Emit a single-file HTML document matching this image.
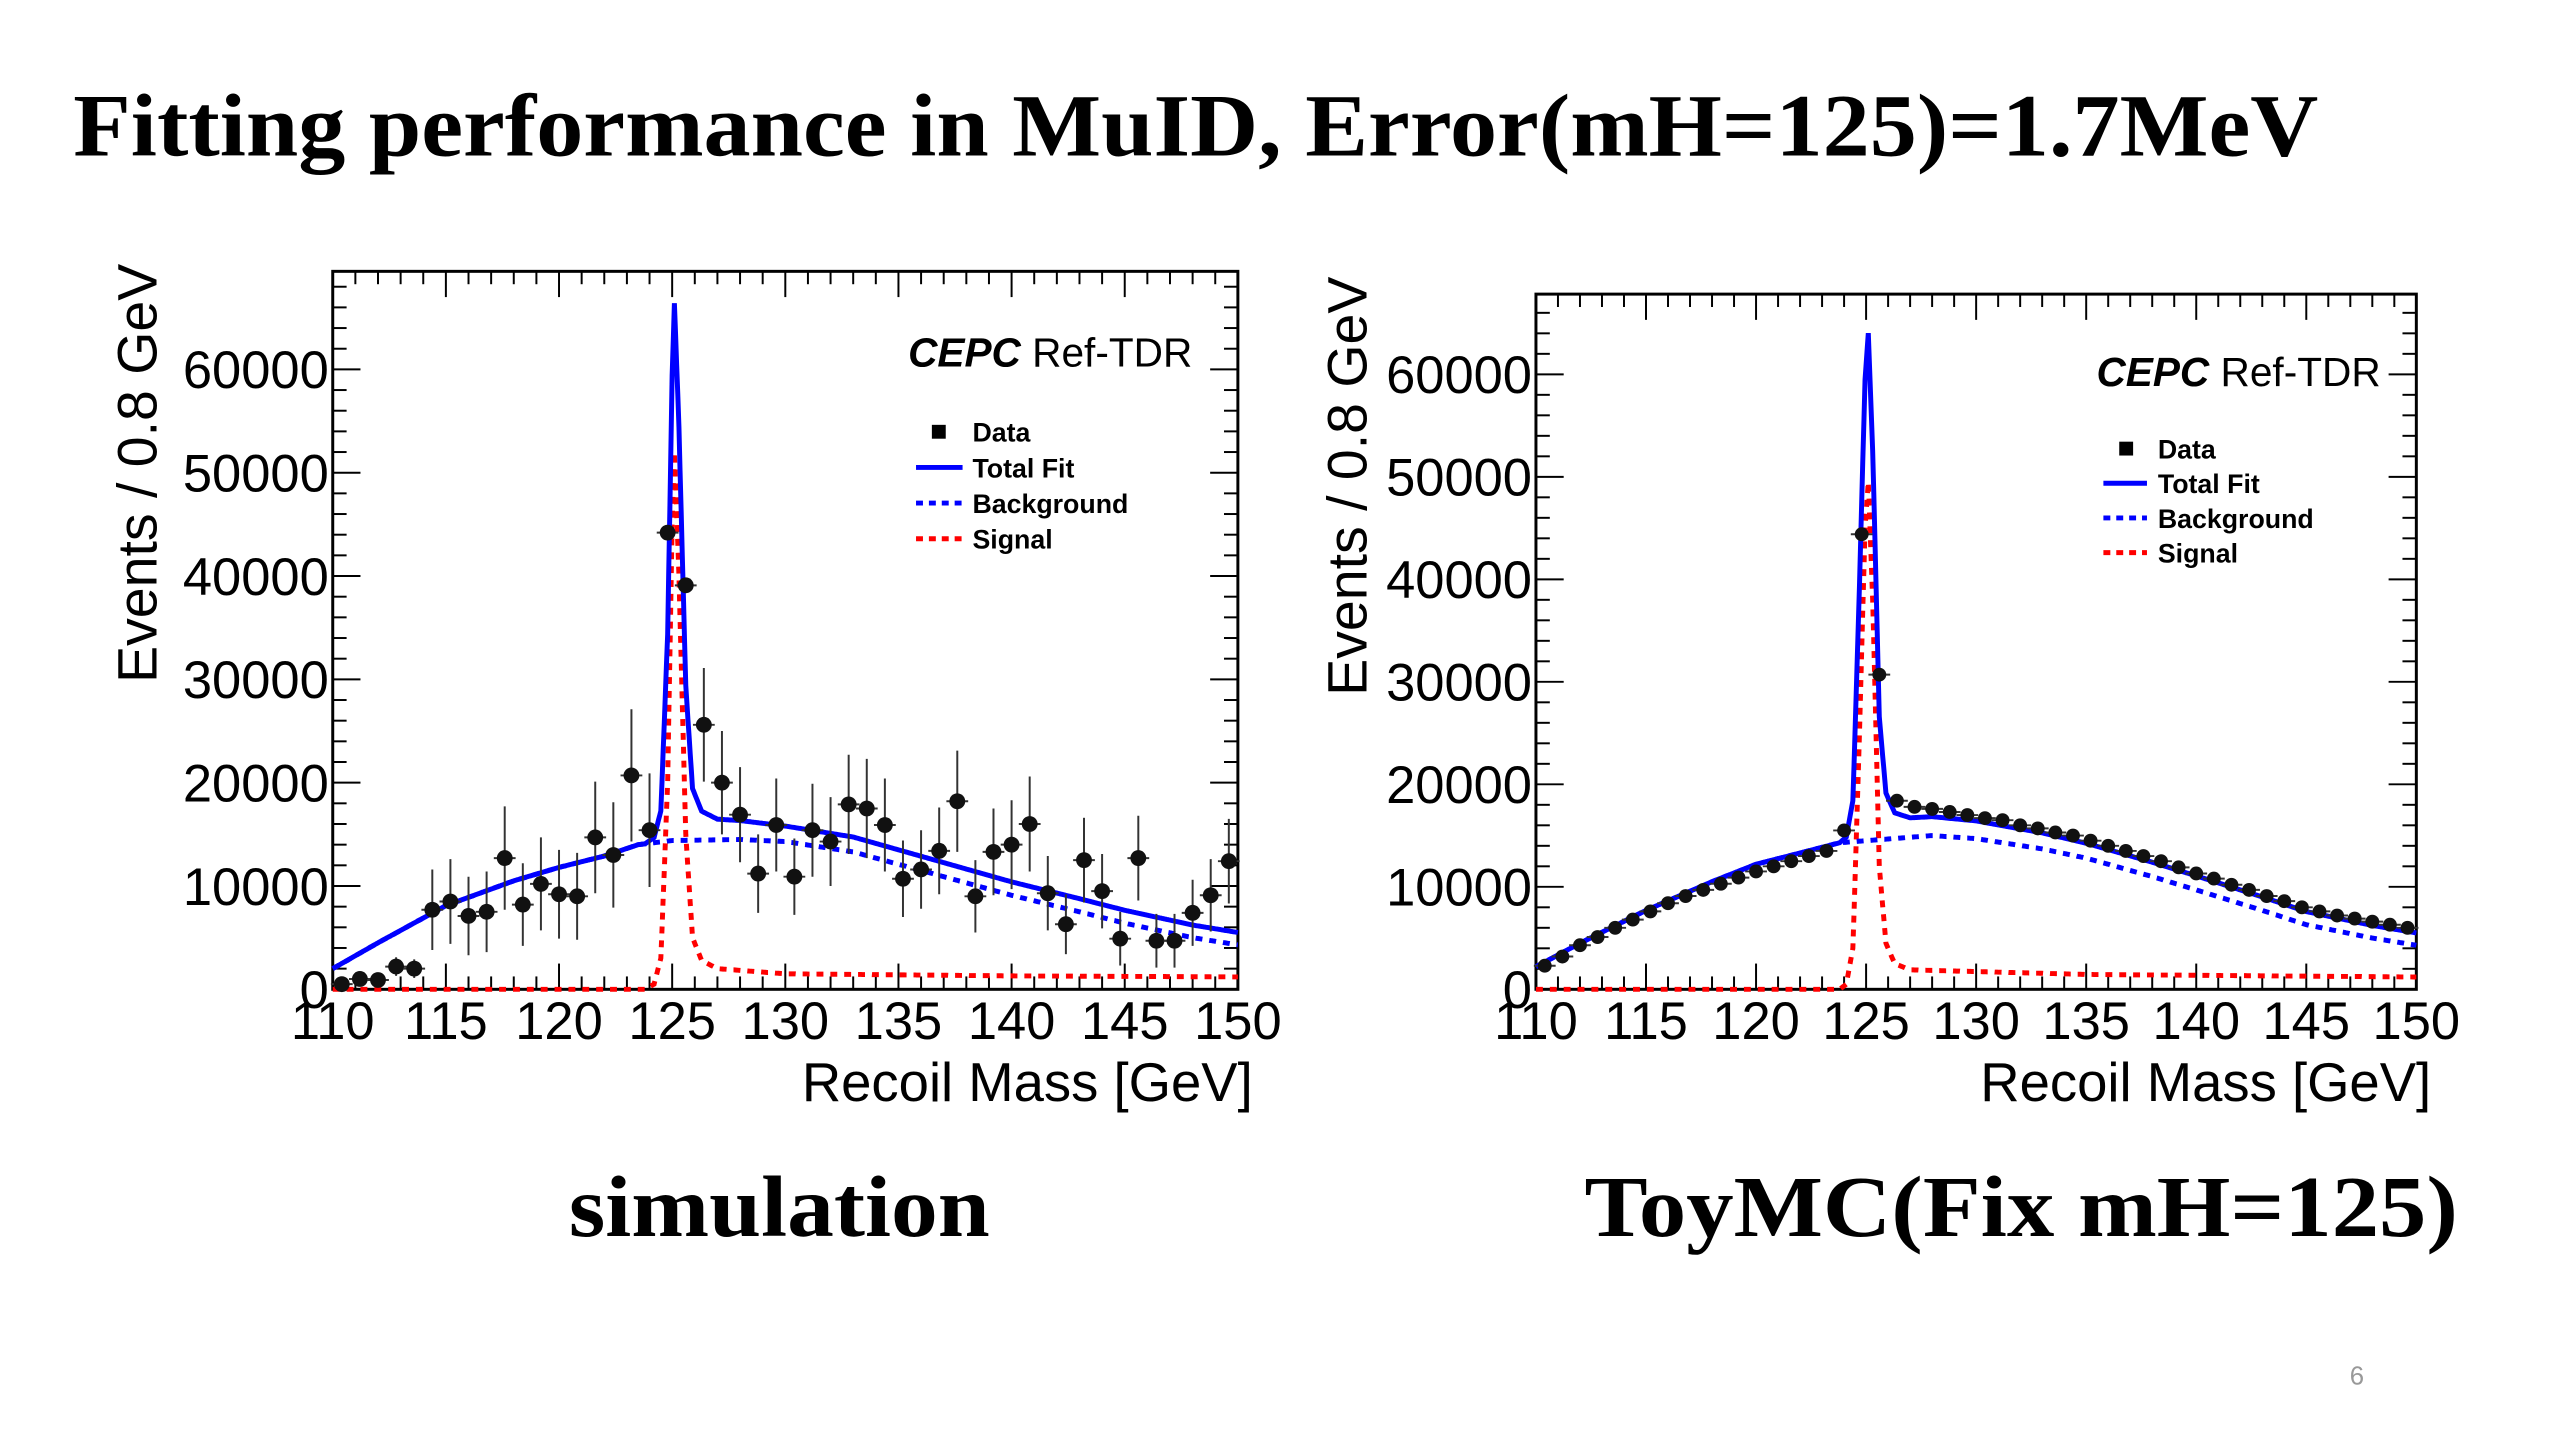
<!DOCTYPE html>
<html><head><meta charset="utf-8"><style>
html,body{margin:0;padding:0;background:#fff;}
svg{display:block;}
text{font-family:"Liberation Sans",sans-serif;}
.serif{font-family:"Liberation Serif",serif;}
</style></head><body>
<svg width="2560" height="1440" viewBox="0 0 2560 1440" xmlns="http://www.w3.org/2000/svg">
<g transform="scale(0.9903)">
<text class="serif" x="74" y="157" font-size="90" font-weight="bold" textLength="2267" lengthAdjust="spacingAndGlyphs">Fitting performance in MuID, Error(mH=125)=1.7MeV</text>
<text class="serif" x="787" y="1248" font-size="88" font-weight="bold" text-anchor="middle" textLength="425" lengthAdjust="spacingAndGlyphs">simulation</text>
<text class="serif" x="2041" y="1248" font-size="88" font-weight="bold" text-anchor="middle" textLength="882" lengthAdjust="spacingAndGlyphs">ToyMC(Fix mH=125)</text>
<text x="2380" y="1398" font-size="26" fill="#999" text-anchor="middle">6</text>
<g id="left"></g>
<g id="right"></g>
</g>
</svg>
<script>
// x ticks and y ticks
const xTicks = [110,115,120,125,130,135,140,145,150];
const yTicks = [0,10000,20000,30000,40000,50000,60000];
// bin centres
const binCenters = [];
for (let i = 0; i < 50; i++) binCenters.push(110.4 + 0.8 * i);

// simulation data
const simData = [500,1000,900,2200,2000,7700,8500,7100,7500,12700,8200,10200,9200,9000,14700,13000,20700,15400,44200,39100,25600,20000,16900,11200,15900,10900,15400,14300,17900,17500,15900,10700,11600,13400,18200,9000,13300,14000,16000,9300,6300,12500,9500,4900,12700,4700,4700,7400,9100,12400];
const simErr = [300,500,500,900,900,3900,4100,3800,3900,5000,4000,4500,4300,4200,5400,5100,6400,5500,700,700,5500,5000,4600,3800,4500,3700,4500,4300,4800,4800,4500,3700,3800,4200,4900,3500,4200,4300,4600,3600,2900,4100,3600,2600,4100,2600,2600,3200,3500,4100];
const simBgX = [110,112,115,118,120,122,123.5,125,128,130,133,135,138,140,143,145,148,150];
const simBgY = [2000,4500,8100,10500,11800,12900,14000,14400,14500,14300,13300,12100,10300,9100,7500,6400,5000,4300];
const simSigX = [110,123.8,124.2,124.5,124.8,125.0,125.1,125.3,125.6,125.9,126.3,127,130,140,150];
const simSigY = [0,0,500,3000,20000,45000,52000,40000,15000,5000,2800,2000,1500,1300,1200];

// toy MC data
const toyData = [2300,3200,4300,5100,6000,6800,7600,8400,9100,9700,10300,10900,11500,12000,12500,13000,13500,15500,44400,30700,18400,17800,17600,17300,17000,16700,16500,16000,15700,15300,15000,14500,14000,13500,13000,12500,11900,11300,10800,10200,9700,9100,8600,8000,7600,7200,6900,6600,6300,6000];
const toyBgX = [110,112,115,118,120,122,123.8,125,128,130,133,135,138,140,143,145,148,150];
const toyBgY = [2200,4500,7700,10500,12200,13300,14300,14500,15000,14700,13700,12800,11000,9700,7700,6300,5000,4300];
const toySigX = [110,123.8,124.1,124.4,124.7,124.95,125.1,125.3,125.6,125.9,126.3,127,135,150];
const toySigY = [0,0,500,4000,25000,45000,49500,38000,12000,4500,2500,1900,1450,1200];

const NS = "http://www.w3.org/2000/svg";
function mk(parent, tag, attrs) {
  const e = document.createElementNS(NS, tag);
  for (const k in attrs) e.setAttribute(k, attrs[k]);
  parent.appendChild(e);
  return e;
}
function interp(xs, ys, x) {
  if (x <= xs[0]) return ys[0];
  for (let i = 1; i < xs.length; i++) {
    if (x <= xs[i]) { const t = (x - xs[i-1]) / (xs[i] - xs[i-1]); return ys[i-1] + t * (ys[i] - ys[i-1]); }
  }
  return ys[ys.length-1];
}

function drawChart(g, cfg) {
  const {L, R, T, B, y60, data, err, bgX, bgY, sigX, sigY, leg, cepc, ylab, xlabX} = cfg;
  const sx = v => L + (v - 110) / 40 * (R - L);
  const sy = v => B - v / 60000 * (B - y60);
  const border = mk(g, 'rect', {x:L, y:T, width:R-L, height:B-T, fill:'none', stroke:'#000', 'stroke-width':3});
  
  
  const tk = mk(g, 'g', {stroke:'#000', 'stroke-width':2});
  
  
  for (let v = 110; v <= 150; v += 1) {
    const len = (v % 5 === 0) ? 26 : 13;
    mk(tk, 'line', {x1:sx(v), x2:sx(v), y1:B, y2:B-len});
    mk(tk, 'line', {x1:sx(v), x2:sx(v), y1:T, y2:T+len});
  }
  for (let v = 0; sy(v) >= T; v += 2000) {
    const len = (v % 10000 === 0) ? 28 : 14;
    mk(tk, 'line', {x1:L, x2:L+len, y1:sy(v), y2:sy(v)});
    mk(tk, 'line', {x1:R, x2:R-len, y1:sy(v), y2:sy(v)});
  }
  xTicks.forEach(v => {
    const t = mk(g, 'text', {x:sx(v), y:B+50, 'font-size':53, 'text-anchor':'middle'});
    t.textContent = v;
    
    
  });
  yTicks.forEach(v => {
    const t = mk(g, 'text', {x:L-4, y:sy(v)+19, 'font-size':53, 'text-anchor':'end'});
    t.textContent = v;
    
    
  });
  const yl = mk(g, 'text', {x:0, y:0, 'font-size':56, 'text-anchor':'middle', transform:`translate(${ylab[0]},${ylab[1]}) rotate(-90)`});
  yl.textContent = 'Events / 0.8 GeV';
  
  
  const xl = mk(g, 'text', {x:xlabX, y:B+113, 'font-size':55, 'text-anchor':'end'});
  xl.textContent = 'Recoil Mass [GeV]';
  
  

  const xs = [];
  for (let x = 110; x <= 150.0001; x += 0.05) xs.push(x);
  const path = f => xs.map((x, i) => (i ? 'L' : 'M') + sx(x).toFixed(1) + ',' + sy(f(x)).toFixed(1)).join('');
  const sig = mk(g, 'path', {d:path(x => interp(sigX, sigY, x)), fill:'none', stroke:'#ff0000', 'stroke-width':5, 'stroke-dasharray':'7 7'});
  
  
  const bg = mk(g, 'path', {d:path(x => interp(bgX, bgY, x)), fill:'none', stroke:'#0000ff', 'stroke-width':5, 'stroke-dasharray':'7 7'});
  
  
  const tot = mk(g, 'path', {d:path(x => interp(bgX, bgY, x) + interp(sigX, sigY, x)), fill:'none', stroke:'#0000ff', 'stroke-width':5});
  
  

  const dg = mk(g, 'g', {});
  
  
  data.forEach((v, i) => {
    const cx = sx(binCenters[i]), cy = sy(v);
    const e = err ? err[i] : 0;
    if (e) mk(dg, 'line', {x1:cx, x2:cx, y1:sy(v+e), y2:sy(v-e), stroke:'#333', 'stroke-width':2});
    mk(dg, 'line', {x1:cx-11, x2:cx+11, y1:cy, y2:cy, stroke:'#333', 'stroke-width':2});
    const c = mk(dg, 'circle', {cx:cx, cy:cy, r:err ? 8 : 7, fill:'#111'});
    
    
  });

  const ct = mk(g, 'text', {x:cepc[0], y:cepc[1], 'font-size':41});
  
  
  const b = mk(ct, 'tspan', {'font-weight':'bold', 'font-style':'italic'}); b.textContent = 'CEPC';
  const r = mk(ct, 'tspan', {}); r.textContent = ' Ref-TDR';

  const lg = mk(g, 'g', {});
  
  
  const names = ['Data', 'Total Fit', 'Background', 'Signal'];
  names.forEach((n, i) => {
    const y = leg.y0 + i * leg.dy;
    if (i === 0) mk(lg, 'rect', {x:leg.mx-7, y:y-7, width:14, height:14, fill:'#000'});
    else mk(lg, 'line', {x1:leg.l1, x2:leg.l2, y1:y, y2:y, stroke:i === 3 ? '#ff0000' : '#0000ff', 'stroke-width':5, 'stroke-dasharray':i === 1 ? 'none' : '7 6'});
    const t = mk(lg, 'text', {x:leg.tx, y:y+10, 'font-size':27, 'font-weight':'bold'});
    t.textContent = n;
    
    
  });
}

drawChart(document.getElementById('left'), {
  L:336, R:1250, T:274, B:999, y60:373, data:simData, err:simErr, bgX:simBgX, bgY:simBgY, sigX:simSigX, sigY:simSigY,
  leg:{y0:436, dy:36, mx:948, l1:925, l2:972, tx:982}, cepc:[917,370], ylab:[158,478], xlabX:1265
});
drawChart(document.getElementById('right'), {
  L:1551, R:2440, T:297, B:999, y60:378, data:toyData, err:null, bgX:toyBgX, bgY:toyBgY, sigX:toySigX, sigY:toySigY,
  leg:{y0:453, dy:35, mx:2147, l1:2124, l2:2168, tx:2179}, cepc:[2117,390], ylab:[1380,491], xlabX:2455
});
</script>
</body></html>
